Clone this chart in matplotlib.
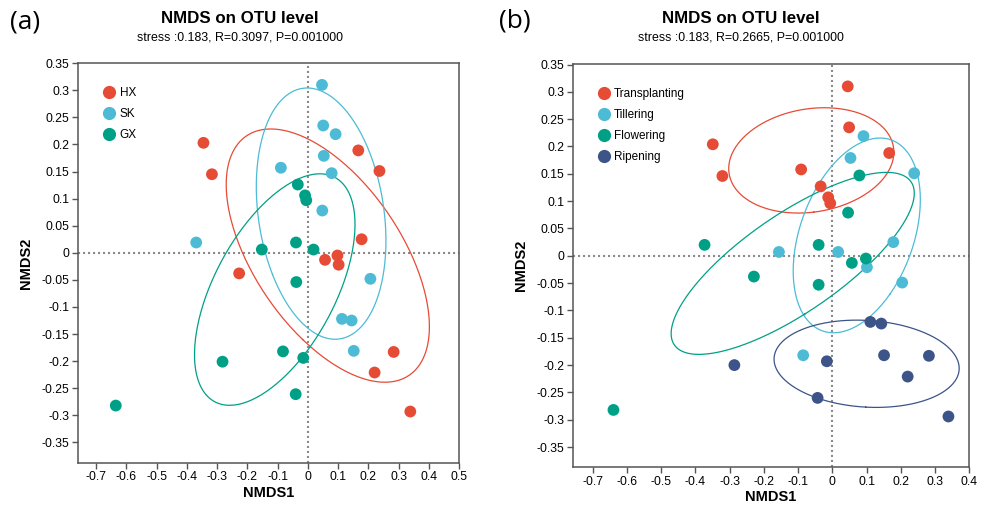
import numpy as np
import matplotlib
matplotlib.use('Agg')
import matplotlib.pyplot as plt
from matplotlib.lines import Line2D

plt.rcParams['font.family'] = ['Liberation Sans', 'DejaVu Sans']
plt.rcParams['axes.unicode_minus'] = False

# ---- panel (a): grouped by site ----
a_labels = ['HX', 'SK', 'GX']
hx_x = [-0.345, -0.317, 0.167, 0.237, 0.178, 0.098, 0.057, 0.102, -0.227, 0.284, 0.221, 0.339]
hx_y = [0.203, 0.145, 0.189, 0.151, 0.025, -0.005, -0.013, -0.022, -0.038, -0.183, -0.221, -0.293]
sk_x = [0.047, 0.051, 0.092, 0.053, 0.079, -0.089, 0.048, -0.369, 0.207, 0.113, 0.145, 0.152]
sk_y = [0.310, 0.235, 0.219, 0.179, 0.147, 0.157, 0.078, 0.019, -0.048, -0.122, -0.125, -0.181]
gx_x = [-0.033, -0.009, -0.005, -0.152, -0.039, 0.019, -0.038, -0.082, -0.015, -0.282, -0.040, -0.635]
gx_y = [0.126, 0.106, 0.097, 0.006, 0.019, 0.006, -0.054, -0.182, -0.194, -0.201, -0.261, -0.282]
a_subtitle = 'stress :0.183, R=0.3097, P=0.001000'

# ---- panel (b): grouped by growth stage ----
b_labels = ['Transplanting', 'Tillering', 'Flowering', 'Ripening']
tr_x = [0.045, 0.049, 0.166, -0.349, -0.321, -0.091, -0.034, -0.012, -0.006]
tr_y = [0.310, 0.235, 0.188, 0.204, 0.146, 0.158, 0.127, 0.107, 0.096]
ti_x = [0.091, 0.053, 0.239, 0.178, -0.156, 0.017, 0.101, 0.204, -0.085]
ti_y = [0.219, 0.179, 0.151, 0.025, 0.007, 0.007, -0.021, -0.049, -0.182]
fl_x = [0.079, 0.046, -0.373, -0.040, 0.057, 0.098, -0.229, -0.040, -0.639]
fl_y = [0.147, 0.079, 0.020, 0.020, -0.013, -0.005, -0.038, -0.053, -0.282]
ri_x = [0.111, 0.143, 0.151, 0.282, 0.220, -0.016, -0.286, -0.043, 0.339]
ri_y = [-0.121, -0.124, -0.182, -0.183, -0.221, -0.193, -0.200, -0.260, -0.294]
b_subtitle = 'stress :0.183, R=0.2665, P=0.001000'

colors = ['#E64B35', '#4DBBD5', '#00A087', '#3C5488']

xticks_a = np.round(np.arange(-0.7, 0.51, 0.1), 2) + 0.0
xticks_b = np.round(np.arange(-0.7, 0.41, 0.1), 2) + 0.0
yticks = np.round(np.arange(-0.35, 0.351, 0.05), 2) + 0.0


def fmt(v):
    return '0' if abs(v) < 1e-9 else f'{v:g}'


def cov_ellipse(x, y, scale=1.5, n=300):
    # centroid + 1.5 sd covariance ellipse of a group
    x, y = np.asarray(x), np.asarray(y)
    vals, vecs = np.linalg.eigh(np.cov(x, y, bias=True))
    t = np.linspace(0, 2 * np.pi, n)
    circ = np.vstack([np.cos(t), np.sin(t)])
    pts = vecs @ (np.sqrt(vals)[:, None] * circ) * scale
    return x.mean() + pts[0], y.mean() + pts[1]


def draw_panel(ax, groups, labels, xlim, ylim, xticks, leg_anchor):
    ax.axhline(0, color='#8a8a8a', lw=1.5, ls=(0, (1, 1.4)), zorder=1)
    ax.axvline(0, color='#8a8a8a', lw=1.5, ls=(0, (1, 1.4)), zorder=1)
    for (gx, gy), c in zip(groups, colors):
        ex, ey = cov_ellipse(gx, gy)
        ax.plot(ex, ey, color=c, lw=0.9, zorder=2)
        ax.scatter(gx, gy, s=72, color=c, edgecolors='none', zorder=3)
    ax.set_xlim(*xlim)
    ax.set_ylim(*ylim)
    ax.set_xticks(xticks)
    ax.set_xticklabels([fmt(v) for v in xticks])
    ax.set_yticks(yticks)
    ax.set_yticklabels([fmt(v) for v in yticks])
    ax.tick_params(direction='out', length=4, width=1, color='#555555',
                   labelsize=8.8, pad=2)
    for sp in ax.spines.values():
        sp.set_color('#555555')
        sp.set_linewidth(1.1)
    ax.set_xlabel('NMDS1', fontsize=10.5, fontweight='bold', labelpad=2)
    ax.set_ylabel('NMDS2', fontsize=10.5, fontweight='bold', labelpad=6)
    handles = [Line2D([], [], marker='o', ls='none', markersize=9.5,
                      markerfacecolor=c, markeredgecolor='none')
               for c in colors[:len(labels)]]
    ax.legend(handles, labels, loc='upper left', bbox_to_anchor=leg_anchor,
              frameon=False, fontsize=8.5, handletextpad=0.3,
              labelspacing=0.76, handlelength=1.2, borderaxespad=0)


fig = plt.figure(figsize=(9.82, 5.08), dpi=100)
ax_a = fig.add_axes([0.0794, 0.0886, 0.388, 0.787])
ax_b = fig.add_axes([0.5832, 0.0801, 0.4039, 0.794])

draw_panel(ax_a, [(hx_x, hx_y), (sk_x, sk_y), (gx_x, gx_y)], a_labels,
           (-0.76, 0.5), (-0.388, 0.35), xticks_a, (0.051, 0.953))
draw_panel(ax_b, [(tr_x, tr_y), (ti_x, ti_y), (fl_x, fl_y), (ri_x, ri_y)], b_labels,
           (-0.758, 0.4), (-0.387, 0.351), xticks_b, (0.048, 0.951))

for cx, sub in [(240, a_subtitle), (741, b_subtitle)]:
    fig.text(cx / 982, 1 - 18.7 / 508, 'NMDS on OTU level', ha='center', va='center',
             fontsize=12.2, fontweight='bold')
    fig.text(cx / 982, 1 - 37 / 508, sub, ha='center', va='center', fontsize=8.9)
fig.text(25 / 982, 1 - 22 / 508, '(a)', ha='center', va='center', fontsize=19,
         family='Open Sans')
fig.text(515 / 982, 1 - 21 / 508, '(b)', ha='center', va='center', fontsize=19,
         family='Open Sans')

fig.savefig('out.png', dpi=100)
